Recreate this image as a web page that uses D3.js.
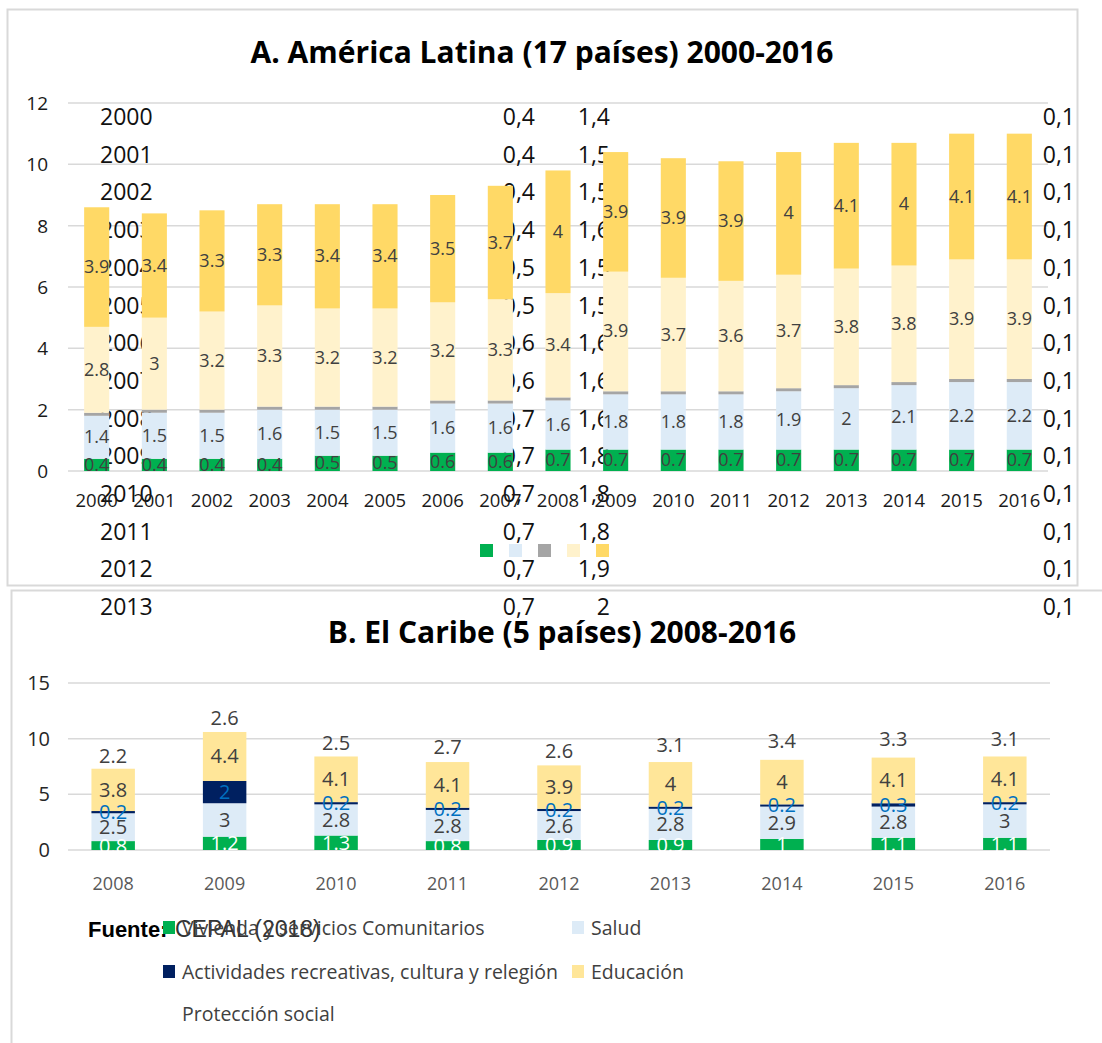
<!DOCTYPE html>
<html>
<head>
<meta charset="utf-8">
<script src="https://cdn.jsdelivr.net/npm/d3@7"></script>
<style>
  body { margin: 0; background: #fff; }
  text { font-family: 'Open Sans', sans-serif; }
</style>
</head>
<body>
<div id="vis"></div>
<script>
const W = 1102, H = 1043;

// panel A: América Latina
const yearsA = ['2000','2001','2002','2003','2004','2005','2006','2007','2008','2009','2010','2011','2012','2013','2014','2015','2016'];
const viviendaA = [0.4,0.4,0.4,0.4,0.5,0.5,0.6,0.6,0.7,0.7,0.7,0.7,0.7,0.7,0.7,0.7,0.7];
const saludA = [1.4,1.5,1.5,1.6,1.5,1.5,1.6,1.6,1.6,1.8,1.8,1.8,1.9,2,2.1,2.2,2.2];
const actividadesA = [0.1,0.1,0.1,0.1,0.1,0.1,0.1,0.1,0.1,0.1,0.1,0.1,0.1,0.1,0.1,0.1,0.1];
const educacionA = [2.8,3,3.2,3.3,3.2,3.2,3.2,3.3,3.4,3.9,3.7,3.6,3.7,3.8,3.8,3.9,3.9];
const proteccionA = [3.9,3.4,3.3,3.3,3.4,3.4,3.5,3.7,4,3.9,3.9,3.9,4,4.1,4,4.1,4.1];
const ticksA = [0, 2, 4, 6, 8, 10, 12];

// the source table that shows through behind panel A
const tableYears = ['2000','2001','2002','2003','2004','2005','2006','2007','2008','2009','2010','2011','2012','2013'];
const tableVivienda = ['0,4','0,4','0,4','0,4','0,5','0,5','0,6','0,6','0,7','0,7','0,7','0,7','0,7','0,7'];
const tableSalud = ['1,4','1,5','1,5','1,6','1,5','1,5','1,6','1,6','1,6','1,8','1,8','1,8','1,9','2'];
const tableActividades = ['0,1','0,1','0,1','0,1','0,1','0,1','0,1','0,1','0,1','0,1','0,1','0,1','0,1','0,1'];

// panel B: El Caribe
const yearsB = ['2008','2009','2010','2011','2012','2013','2014','2015','2016'];
const viviendaB = [0.8,1.2,1.3,0.8,0.9,0.9,1,1.1,1.1];
const saludB = [2.5,3,2.8,2.8,2.6,2.8,2.9,2.8,3];
const actividadesB = [0.2,2,0.2,0.2,0.2,0.2,0.2,0.3,0.2];
const educacionB = [3.8,4.4,4.1,4.1,3.9,4,4,4.1,4.1];
const proteccionB = [2.2,2.6,2.5,2.7,2.6,3.1,3.4,3.3,3.1];
const ticksB = [0, 5, 10, 15];

const keys = ['vivienda', 'salud', 'actividades', 'educacion', 'proteccion'];
const seriesNames = ['Vivienda y servicios Comunitarios', 'Salud', 'Actividades recreativas, cultura y relegión', 'Educación', 'Protección social'];
const colorsA = { vivienda: '#00b050', salud: '#ddebf7', actividades: '#a5a5a5', educacion: '#fff2cc', proteccion: '#ffd966' };
const colorsB = { vivienda: '#00b050', salud: '#ddebf7', actividades: '#002060', educacion: '#ffe699', proteccion: 'none' };
const labelColorB = { vivienda: '#ffffff', salud: '#404040', actividades: '#0070c0', educacion: '#404040', proteccion: '#404040' };

const fmt = d3.format('');

const svg = d3.select('#vis')
    .append('svg')
    .attr('width', W)
    .attr('height', H);

function rows(years, cols) {
    return years.map((y, i) => {
        const r = { year: y };
        keys.forEach((k, j) => r[k] = cols[j][i]);
        return r;
    });
}

function tableRow(g, i, yPos) {
    g.append('text').attr('x', 100).attr('y', yPos).text(tableYears[i]);
    g.append('text').attr('x', 535).attr('y', yPos).attr('text-anchor', 'end').text(tableVivienda[i]);
    g.append('text').attr('x', 610).attr('y', yPos).attr('text-anchor', 'end').text(tableSalud[i]);
    g.append('text').attr('x', 1075).attr('y', yPos).attr('text-anchor', 'end').text(tableActividades[i]);
}

function drawA() {
    const data = rows(yearsA, [viviendaA, saludA, actividadesA, educacionA, proteccionA]);
    const stacked = d3.stack().keys(keys)(data);

    const x = d3.scaleBand().domain(yearsA).range([68, 1048]).paddingInner(0.565).paddingOuter(0.28);
    const y = d3.scaleLinear().domain([0, 12]).range([471, 103]);

    svg.append('rect')
        .attr('x', 7.5).attr('y', 9.5)
        .attr('width', 1070).attr('height', 576)
        .attr('fill', '#fff').attr('stroke', '#d9d9d9').attr('stroke-width', 2);

    svg.append('text')
        .attr('x', 542).attr('y', 63)
        .attr('text-anchor', 'middle')
        .style('font-size', '30px').style('font-weight', 'bold')
        .text('A. América Latina (17 países) 2000-2016');

    svg.append('g').selectAll('line')
        .data(ticksA)
        .enter().append('line')
        .attr('x1', 68).attr('x2', 1048)
        .attr('y1', d => y(d)).attr('y2', d => y(d))
        .attr('stroke', '#d9d9d9').attr('stroke-width', 1.5);

    svg.append('g').selectAll('text')
        .data(ticksA)
        .enter().append('text')
        .attr('x', 48).attr('y', d => y(d) + 7)
        .attr('text-anchor', 'end')
        .style('font-size', '19px').attr('fill', '#1a1a1a')
        .text(d => d);

    // table text behind the bars
    const tbl = svg.append('g').style('font-size', '23px').attr('fill', '#111');
    tableYears.forEach((d, i) => {
        if (i < tableYears.length - 1) tableRow(tbl, i, 125 + i * 37.7);
    });

    const layer = svg.append('g').selectAll('g')
        .data(stacked)
        .enter().append('g')
        .attr('fill', d => colorsA[d.key]);

    layer.selectAll('rect')
        .data(d => d)
        .enter().append('rect')
        .attr('x', d => x(d.data.year))
        .attr('width', x.bandwidth())
        .attr('y', d => y(d[1]))
        .attr('height', d => y(d[0]) - y(d[1]));

    stacked.filter(s => s.key !== 'actividades').forEach(s => {
        svg.append('g').selectAll('text')
            .data(s)
            .enter().append('text')
            .attr('x', d => x(d.data.year) + x.bandwidth() / 2)
            .attr('y', d => y((d[0] + d[1]) / 2) + 6)
            .attr('text-anchor', 'middle')
            .style('font-size', '18px').attr('fill', '#404040')
            .text(d => fmt(d.data[s.key]));
    });

    svg.append('g').selectAll('text')
        .data(yearsA)
        .enter().append('text')
        .attr('x', d => x(d) + x.bandwidth() / 2)
        .attr('y', 507)
        .attr('text-anchor', 'middle')
        .style('font-size', '18.5px').attr('fill', '#1a1a1a')
        .text(d => d);

    // legend without text
    svg.append('g').selectAll('rect')
        .data(keys)
        .enter().append('rect')
        .attr('x', (d, i) => 480 + i * 29)
        .attr('y', 544)
        .attr('width', 13).attr('height', 13)
        .attr('fill', d => colorsA[d]);
}

function drawB() {
    const data = rows(yearsB, [viviendaB, saludB, actividadesB, educacionB, proteccionB]);
    const stacked = d3.stack().keys(keys)(data);

    const x = d3.scaleBand().domain(yearsB).range([58, 1060]).paddingInner(0.61).paddingOuter(0.3);
    const y = d3.scaleLinear().domain([0, 15]).range([850, 683]);

    svg.append('rect')
        .attr('x', 11.5).attr('y', 590.5)
        .attr('width', 1100).attr('height', 470)
        .attr('fill', '#fff').attr('stroke', '#d9d9d9').attr('stroke-width', 2);

    svg.append('text')
        .attr('x', 562).attr('y', 643)
        .attr('text-anchor', 'middle')
        .style('font-size', '30px').style('font-weight', 'bold')
        .text('B. El Caribe (5 países) 2008-2016');

    // last table row still shows through
    const last = tableYears.length - 1;
    tableRow(svg.append('g').style('font-size', '23px').attr('fill', '#111'), last, 125 + last * 37.7);

    svg.append('g').selectAll('line')
        .data(ticksB)
        .enter().append('line')
        .attr('x1', 68).attr('x2', 1050)
        .attr('y1', d => y(d)).attr('y2', d => y(d))
        .attr('stroke', '#d9d9d9').attr('stroke-width', 1.5);

    svg.append('g').selectAll('text')
        .data(ticksB)
        .enter().append('text')
        .attr('x', 50).attr('y', d => y(d) + 7)
        .attr('text-anchor', 'end')
        .style('font-size', '20px').attr('fill', '#262626')
        .text(d => d);

    const layer = svg.append('g').selectAll('g')
        .data(stacked)
        .enter().append('g')
        .attr('fill', d => colorsB[d.key]);

    layer.selectAll('rect')
        .data(d => d)
        .enter().append('rect')
        .attr('x', d => x(d.data.year))
        .attr('width', x.bandwidth())
        .attr('y', d => y(d[1]))
        .attr('height', d => y(d[0]) - y(d[1]));

    stacked.forEach(s => {
        svg.append('g').selectAll('text')
            .data(s)
            .enter().append('text')
            .attr('x', d => x(d.data.year) + x.bandwidth() / 2)
            .attr('y', d => y((d[0] + d[1]) / 2) + 7)
            .attr('text-anchor', 'middle')
            .style('font-size', '20px').attr('fill', labelColorB[s.key])
            .text(d => fmt(d.data[s.key]));
    });

    svg.append('g').selectAll('text')
        .data(yearsB)
        .enter().append('text')
        .attr('x', d => x(d) + x.bandwidth() / 2)
        .attr('y', 890)
        .attr('text-anchor', 'middle')
        .style('font-size', '18px').attr('fill', '#595959')
        .text(d => d);

    svg.append('text')
        .attr('x', 88).attr('y', 937)
        .style('font-family', "'Liberation Sans', Arial, sans-serif")
        .style('font-size', '22px').style('font-weight', 'bold')
        .text('Fuente:');
    svg.append('text')
        .attr('x', 175).attr('y', 937)
        .style('font-family', "'Liberation Sans', Arial, sans-serif")
        .style('font-size', '23px').attr('fill', '#333')
        .text('CEPAL (2018)');

    // legend in two columns
    const legendPos = [[163, 928], [572, 928], [163, 972], [572, 972], [163, 1014]];
    const legend = svg.append('g').selectAll('g')
        .data(keys)
        .enter().append('g')
        .attr('transform', (d, i) => `translate(${legendPos[i][0]},${legendPos[i][1]})`);
    legend.append('rect')
        .attr('x', 0).attr('y', -7)
        .attr('width', 12).attr('height', 13)
        .attr('fill', d => colorsB[d]);
    legend.append('text')
        .attr('x', 19).attr('y', 7)
        .style('font-size', '19.5px').attr('fill', '#404040')
        .text((d, i) => seriesNames[i]);
}

drawA();
drawB();
</script>
</body>
</html>
